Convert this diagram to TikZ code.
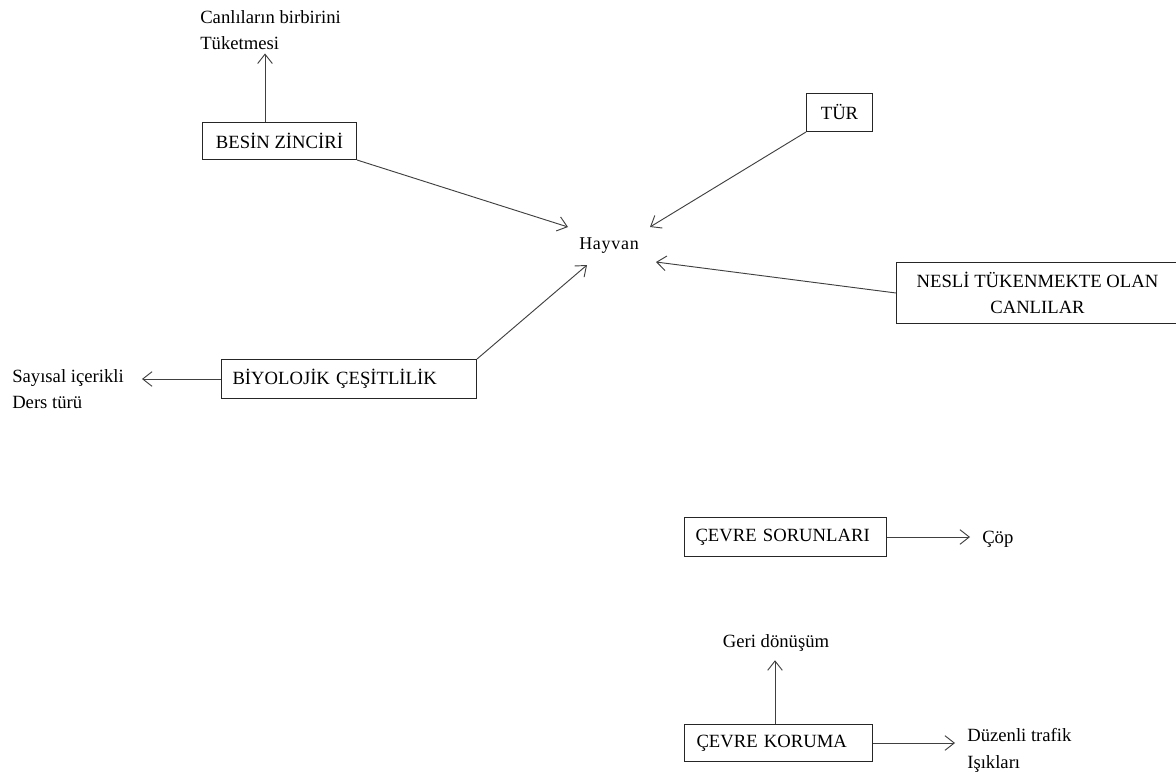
\documentclass[tikz,border=0pt]{standalone}
\usepackage{fontspec}
\setmainfont{Liberation Serif}
\usetikzlibrary{arrows.meta,calc}
\begin{document}
\begin{tikzpicture}[x=0.75pt,y=-0.75pt,
  every node/.style={font=\fontsize{14}{19.5}\selectfont, text=black},
  box/.style={draw=black!85, line width=0.75pt, inner ysep=0pt, align=center},
  lbl/.style={inner sep=0pt, align=left, anchor=base west},
  arr/.style={draw=black!75, line width=0.7pt, -{Straight Barb[length=7pt,width=11pt,line width=0.7pt]}}]
\useasboundingbox (0,0) rectangle (1176,771);

% boxes
\node[box, minimum width=154*0.75pt, minimum height=37*0.75pt, anchor=north west] (besin) at (202,122) {BESİN ZİNCİRİ};
\node[box, minimum width=66*0.75pt, minimum height=38*0.75pt, anchor=north west] (tur) at (806,93) {TÜR};
\node[box, minimum width=282*0.75pt, minimum height=61*0.75pt, anchor=north west] (nesli) at (896,262) {NESLİ TÜKENMEKTE OLAN\\CANLILAR};
\node[box, inner xsep=11*0.75pt, text width=233*0.75pt, align=left, minimum height=39*0.75pt, anchor=north west] (biyo) at (221,359) {BİYOLOJİK ÇEŞİTLİLİK};
\node[box, inner xsep=11*0.75pt, text width=180*0.75pt, align=left, minimum height=39*0.75pt, anchor=north west] (sorun) at (684,517) {ÇEVRE SORUNLARI};
\node[box, inner xsep=12*0.75pt, text width=164*0.75pt, align=left, minimum height=37*0.75pt, anchor=north west] (koruma) at (684,724) {ÇEVRE KORUMA};

% free texts (base anchor = last line baseline)
\node[inner sep=0pt, anchor=base west, font=\fontsize{13.5}{19}\selectfont\addfontfeature{LetterSpace=4}] (hayvan) at (579,249) {Hayvan};
\node[lbl] (canli) at (200,49) {Canlıların birbirini\\Tüketmesi};
\node[lbl] (sayi) at (12,408) {Sayısal  içerikli\\Ders türü};
\node[lbl] (cop) at (982,543) {Çöp};
\node[inner sep=0pt, anchor=base] (geri) at (776,647) {Geri dönüşüm};
\node[lbl, font=\fontsize{14}{20}\selectfont] (duzenli) at (967,768) {Düzenli trafik\\Işıkları};

% tips near Hayvan
\coordinate (h1) at (568,227);
\coordinate (h2) at (650,227);
\coordinate (h3) at (656,262);
\coordinate (h4) at (587,265);

% connectors
\draw[arr] ([xshift=63*0.75pt]besin.north west) -- ([xshift=63*0.75pt,yshift=-4*0.75pt]besin.north west |- canli.south);
\draw[arr] (besin.south east) -- (h1);
\draw[arr] (tur.south west) -- (h2);
\draw[arr] (nesli.west) -- (h3);
\draw[arr] (biyo.north east) -- (h4);
\draw[arr] (biyo.west) -- ([xshift=18*0.75pt]biyo.west -| sayi.east);
\draw[arr] (sorun.east) -- ([xshift=-12*0.75pt]sorun.east -| cop.west);
\draw[arr] ([xshift=91*0.75pt]koruma.north west) -- ([xshift=91*0.75pt,yshift=-9*0.75pt]koruma.north west |- geri.south);
\draw[arr] (koruma.east) -- ([xshift=-12*0.75pt]koruma.east -| duzenli.west);
\end{tikzpicture}
\end{document}
